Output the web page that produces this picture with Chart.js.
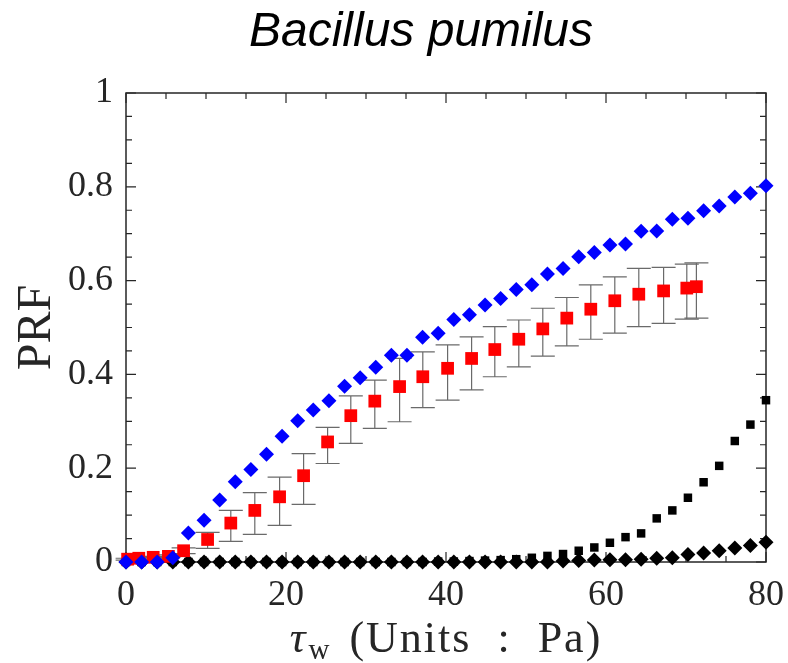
<!DOCTYPE html>
<html>
<head>
<meta charset="utf-8">
<script src="https://cdn.jsdelivr.net/npm/chart.js@4.4.1/dist/chart.umd.min.js"></script>
<style>
  html, body { margin: 0; padding: 0; background: #fff; }
</style>
</head>
<body>
<canvas id="c" width="788" height="663"></canvas>
<script>
// ===== DATA =====
const xTickLabels = [0, 20, 40, 60, 80];
const yTickLabels = [0, 0.2, 0.4, 0.6, 0.8, 1];

// shared tau_w grid of the diamond / small square series
const tauX = [0, 1.95, 3.9, 5.85, 7.8, 9.76, 11.71, 13.66, 15.61, 17.56, 19.51, 21.46, 23.41, 25.37,
  27.32, 29.27, 31.22, 33.17, 35.12, 37.07, 39.02, 40.98, 42.93, 44.88, 46.83, 48.78, 50.73, 52.68,
  54.63, 56.59, 58.54, 60.49, 62.44, 64.39, 66.34, 68.29, 70.24, 72.2, 74.15, 76.1, 78.05, 80];

const blueY = [0, 0, 0, 0.009, 0.062, 0.089, 0.132, 0.171, 0.197, 0.230, 0.268, 0.301, 0.324, 0.344,
  0.375, 0.393, 0.415, 0.441, 0.441, 0.479, 0.488, 0.517, 0.527, 0.548, 0.562, 0.581, 0.591, 0.614,
  0.626, 0.651, 0.660, 0.676, 0.678, 0.705, 0.706, 0.731, 0.733, 0.749, 0.759, 0.778, 0.786, 0.802];

const blackDiamondY = [0, 0, 0, 0, 0, 0, 0, 0, 0, 0, 0, 0, 0, 0, 0, 0, 0, 0, 0, 0, 0, 0, 0, 0, 0, 0, 0, 0,
  0.002, 0.003, 0.004, 0.005, 0.005, 0.006, 0.008, 0.009, 0.016, 0.019, 0.024, 0.030, 0.035, 0.042];

const blackSquareY = [0, 0, 0, 0, 0, 0, 0, 0, 0, 0, 0, 0, 0, 0, 0, 0, 0, 0, 0, 0, 0.001, 0.001, 0.002, 0.003,
  0.004, 0.006, 0.009, 0.013, 0.017, 0.024, 0.031, 0.041, 0.053, 0.061, 0.093, 0.110, 0.137, 0.170,
  0.205, 0.258, 0.293, 0.345];

// measured points with error bars
const redX = [0.2, 1.6, 3.4, 5.3, 7.2, 10.2, 13.1, 16.1, 19.2, 22.2, 25.2, 28.1, 31.1, 34.2, 37.1,
  40.2, 43.2, 46.1, 49.1, 52.1, 55.1, 58.1, 61.1, 64.1, 67.2, 70.1, 71.3];
const redY = [0.006, 0.008, 0.010, 0.012, 0.024, 0.048, 0.083, 0.110, 0.139, 0.184, 0.256, 0.312, 0.343,
  0.374, 0.395, 0.413, 0.434, 0.453, 0.475, 0.497, 0.520, 0.539, 0.557, 0.571, 0.578, 0.584, 0.587];
const redHigh = [0.008, 0.010, 0.012, 0.015, 0.030, 0.063, 0.110, 0.148, 0.181, 0.231, 0.287, 0.354, 0.388,
  0.434, 0.448, 0.463, 0.480, 0.502, 0.516, 0.541, 0.564, 0.591, 0.608, 0.626, 0.628, 0.635, 0.638];
const redLow = [0.004, 0.006, 0.008, 0.010, 0.018, 0.029, 0.044, 0.059, 0.078, 0.123, 0.210, 0.253, 0.285,
  0.299, 0.329, 0.345, 0.367, 0.395, 0.416, 0.439, 0.461, 0.475, 0.488, 0.502, 0.509, 0.518, 0.520];

// ===== HELPERS =====
const AX = '#262626';
const SERIF = '"Liberation Serif", "DejaVu Serif", serif';
const pts = (xs, ys) => xs.map((x, i) => ({ x, y: ys[i] }));
const isMajor = (v, list) => list.some(t => Math.abs(t - v) < 1e-6);

// error bars, drawn just under the red squares
const errorBars = {
  id: 'errorBars',
  beforeDatasetDraw(chart, args) {
    if (args.index !== 1) return;
    const { ctx, scales: { x, y } } = chart;
    ctx.save();
    ctx.strokeStyle = '#6a6a6a';
    ctx.lineWidth = 1.2;
    redX.forEach((v, i) => {
      const px = x.getPixelForValue(v);
      const top = y.getPixelForValue(redHigh[i]);
      const bot = y.getPixelForValue(redLow[i]);
      ctx.beginPath();
      ctx.moveTo(px, top); ctx.lineTo(px, bot);
      ctx.moveTo(px - 12, top); ctx.lineTo(px + 12, top);
      ctx.moveTo(px - 12, bot); ctx.lineTo(px + 12, bot);
      ctx.stroke();
    });
    ctx.restore();
  }
};

// box with inward ticks on all four sides (matlab style)
const frame = {
  id: 'frame',
  beforeDatasetsDraw(chart) {
    const { ctx, chartArea: a, scales: { x, y } } = chart;
    ctx.save();
    ctx.strokeStyle = AX;
    ctx.lineWidth = 1.5;
    ctx.strokeRect(a.left, a.top, a.right - a.left, a.bottom - a.top);
    ctx.lineWidth = 1.2;
    ctx.beginPath();
    x.ticks.forEach(t => {
      const px = x.getPixelForValue(t.value);
      const len = isMajor(t.value, xTickLabels) ? 10 : 6;
      ctx.moveTo(px, a.bottom); ctx.lineTo(px, a.bottom - len);
      ctx.moveTo(px, a.top); ctx.lineTo(px, a.top + len);
    });
    y.ticks.forEach(t => {
      const py = y.getPixelForValue(t.value);
      const len = isMajor(t.value, yTickLabels) ? 10 : 6;
      ctx.moveTo(a.left, py); ctx.lineTo(a.left + len, py);
      ctx.moveTo(a.right, py); ctx.lineTo(a.right - len, py);
    });
    ctx.stroke();
    ctx.restore();
  },
  afterDraw(chart) {
    const { ctx, chartArea: a } = chart;
    ctx.save();
    ctx.fillStyle = '#000';
    // title
    ctx.font = 'italic 48px "Liberation Sans", Arial, sans-serif';
    ctx.textAlign = 'center';
    ctx.textBaseline = 'alphabetic';
    ctx.fillText('Bacillus pumilus', 421, 46);

    // y title
    ctx.fillStyle = AX;
    ctx.save();
    ctx.translate(50, (a.top + a.bottom) / 2);
    ctx.rotate(-Math.PI / 2);
    ctx.font = '48px ' + SERIF;
    ctx.fillText('PRF', 0, 0);
    ctx.restore();

    // x title: tau_w (Units : Pa)
    const base = 652;
    const main = '44px ' + SERIF, sub = '29px ' + SERIF;
    const rest = ' (Units  :  Pa)';
    ctx.textAlign = 'left';
    ctx.letterSpacing = '2px';
    ctx.font = 'italic ' + main;
    const wTau = ctx.measureText('τ').width;
    ctx.font = sub;
    const wSub = ctx.measureText('w').width;
    ctx.font = main;
    const wRest = ctx.measureText(rest).width;
    let cx = (a.left + a.right) / 2 - (wTau + wSub + 6 + wRest) / 2;
    ctx.font = 'italic ' + main;
    ctx.fillText('τ', cx, base);
    cx += wTau + 1;
    ctx.font = sub;
    ctx.fillText('w', cx, base + 7);
    cx += wSub + 5;
    ctx.font = main;
    ctx.fillText(rest, cx, base);
    ctx.restore();
  }
};

new Chart(document.getElementById('c'), {
  type: 'scatter',
  data: {
    datasets: [
      { label: 'blue', data: pts(tauX, blueY), pointStyle: 'rectRot', pointRadius: 7.5,
        backgroundColor: '#0000ff', borderColor: '#0000ff', borderWidth: 0, clip: false },
      { label: 'red', data: pts(redX, redY), pointStyle: 'rect', pointRadius: 9,
        backgroundColor: '#ff0000', borderColor: '#ff0000', borderWidth: 0, clip: false },
      { label: 'black diamond', data: pts(tauX, blackDiamondY), pointStyle: 'rectRot', pointRadius: 7.5,
        backgroundColor: '#000', borderColor: '#000', borderWidth: 0, clip: false },
      { label: 'black square', data: pts(tauX, blackSquareY), pointStyle: 'rect', pointRadius: 6,
        backgroundColor: '#000', borderColor: '#000', borderWidth: 0, clip: false }
    ]
  },
  options: {
    responsive: false,
    animation: false,
    layout: { padding: { top: 93, right: 22, left: 0, bottom: 0 } },
    plugins: { legend: { display: false }, tooltip: { enabled: false }, title: { display: false } },
    scales: {
      x: {
        type: 'linear', min: 0, max: 80,
        grid: { display: false, drawTicks: false },
        border: { display: false },
        ticks: {
          stepSize: 5, autoSkip: false, maxRotation: 0, padding: 12, color: AX,
          font: { family: SERIF, size: 36 },
          callback: v => isMajor(v, xTickLabels) ? String(v) : ''
        },
        afterFit: s => { s.height = 101; s.paddingLeft = 0; s.paddingRight = 0; }
      },
      y: {
        type: 'linear', min: 0, max: 1,
        grid: { display: false, drawTicks: false },
        border: { display: false },
        ticks: {
          stepSize: 0.05, autoSkip: false, padding: 13, color: AX,
          font: { family: SERIF, size: 36 },
          callback: v => isMajor(v, yTickLabels) ? String(Math.round(v * 10) / 10) : ''
        },
        afterFit: s => { s.width = 126; s.paddingTop = 0; s.paddingBottom = 0; }
      }
    }
  },
  plugins: [errorBars, frame]
});
</script>
</body>
</html>
